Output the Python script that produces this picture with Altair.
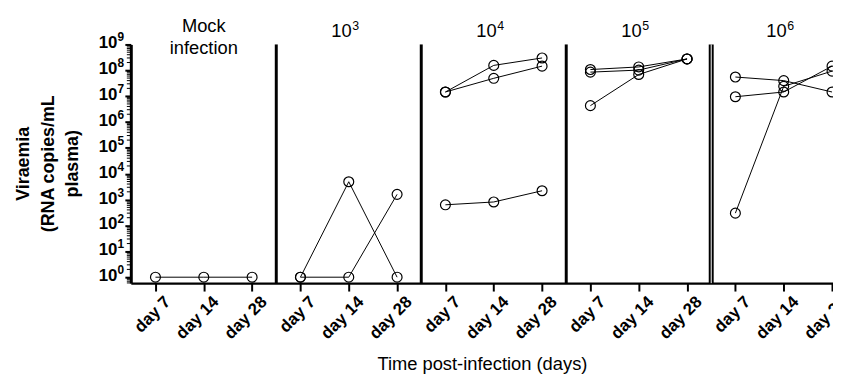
import json
import altair as alt
import pandas as pd

# ---------------- data ----------------
panel_bases = ["Mock\ninfection", "10", "10", "10", "10"]
panel_exps = ["", "3", "4", "5", "6"]
day_labels = ["day 7", "day 14", "day 28"]

# each inner list: one animal, values at day 7 / day 14 / day 28 (RNA copies/mL)
mock = [[1, 1, 1]]
dose_1e3 = [[1, 4900, 1], [1, 1, 1600]]
dose_1e4 = [[1.45e7, 1.55e8, 3.0e8], [1.45e7, 4.9e7, 1.45e8], [630, 810, 2200]]
dose_1e5 = [[1.07e8, 1.35e8, 2.75e8], [8.5e7, 1.02e8, 2.75e8], [4.3e6, 6.9e7, 2.75e8]]
dose_1e6 = [[5.5e7, 4.0e7, 1.45e7], [9.5e6, 1.45e7, 1.45e8], [300, 2.4e7, 9.3e7]]

groups = [mock, dose_1e3, dose_1e4, dose_1e5, dose_1e6]

y_major = [10 ** k for k in range(10)]
y_label_base = ["10"] * 10
y_label_exp = [str(k) for k in range(10)]

# ---------------- tables ----------------
rows = []
for g, series in enumerate(groups):
    for a, vals in enumerate(series):
        for d, v in enumerate(vals):
            rows.append({"pos": g * 3 + d, "value": v, "animal": f"{g}-{a}"})
df = pd.DataFrame(rows)

n_days = len(day_labels)
titles_df = pd.DataFrame({"pos": [g * n_days + 1 for g in range(len(groups))],
                          "base": panel_bases, "exp": panel_exps})
mock_title = titles_df.iloc[:1]
dose_titles = titles_df.iloc[1:]

ylab_df = pd.DataFrame({"v": y_major, "base": y_label_base, "exp": y_label_exp})

bounds = [g * n_days - 0.5 for g in range(1, len(groups))]
sep_df = pd.DataFrame({"pos": bounds[:-1]})
sep_last = pd.DataFrame({"pos": bounds[-1:]})

minor_df = pd.DataFrame({"v": [m * 10 ** k for k in range(-1, 9) for m in range(2, 10)
                               if 0.59 <= m * 10 ** k <= 1e9]})

# ---------------- layout ----------------
W, H = 709, 241
FONT = "Liberation Sans"

x_scale = alt.Scale(domain=[-0.51, 14.02], nice=False, zero=False)
y_scale = alt.Scale(type="log", domain=[0.59, 1e9], nice=False)

x_axis = alt.Axis(
    values=list(range(len(groups) * n_days)),
    labelExpr=f"{json.dumps(day_labels)}[datum.value % {n_days}]",
    title="Time post-infection (days)",
    labelAngle=-45, labelAlign="right", labelBaseline="middle",
    labelFont=FONT, labelFontSize=17, labelFontWeight="bold", labelColor="black",
    labelPadding=8, labelOffset=12, labelOverlap=False, labelFlush=False,
    tickSize=8, tickWidth=2, tickColor="black",
    domainWidth=2.5, domainColor="black", grid=False,
    titleFont=FONT, titleFontSize=18.5, titleFontWeight="normal", titleColor="black",
    titleY=87, titleBaseline="alphabetic",
)

y_axis = alt.Axis(
    values=y_major,
    labels=False,
    title=["Viraemia", "(RNA copies/mL", "plasma)"],
    titleFont=FONT, titleFontSize=18, titleFontWeight="bold", titleColor="black",
    titleAngle=-90, titleX=-108, titleY=120, titleLineHeight=24.5,
    titleBaseline="middle", titleAlign="center",
    tickSize=6, tickWidth=2, tickColor="black",
    domainWidth=3, domainColor="black", grid=False,
)

X = alt.X("pos:Q", scale=x_scale, axis=x_axis)

def Yf(field):
    return alt.Y(f"{field}:Q", scale=y_scale, axis=y_axis)

lines = alt.Chart(df).mark_line(color="black", strokeWidth=1, clip=True).encode(
    x=X, y=Yf("value"), detail="animal:N",
)

points = alt.Chart(df).mark_point(shape="circle", filled=False, color="black", size=100,
                                  strokeWidth=1.2, opacity=1, clip=True).encode(
    x=X, y=Yf("value"),
)

seps = alt.Chart(sep_df).mark_rule(color="black", strokeWidth=3).encode(
    x=X, y=alt.value(0), y2=alt.value(H))
sep2 = alt.Chart(sep_last).mark_rule(color="black", strokeWidth=5).encode(
    x=X, y=alt.value(0), y2=alt.value(H))
sep2w = alt.Chart(sep_last).mark_rule(color="white", strokeWidth=1).encode(
    x=X, y=alt.value(0), y2=alt.value(H))

t_mock = alt.Chart(mock_title).mark_text(font=FONT, fontSize=18.5, color="black",
                                         baseline="alphabetic", lineBreak="\n",
                                         lineHeight=23).encode(
    x=X, y=alt.value(-13), text="base:N")
t_base = alt.Chart(dose_titles).mark_text(font=FONT, fontSize=18.5, color="black",
                                          baseline="alphabetic", align="right", dx=3).encode(
    x=X, y=alt.value(-8), text="base:N")
t_exp = alt.Chart(dose_titles).mark_text(font=FONT, fontSize=12.5, color="black",
                                         baseline="alphabetic", align="left", dx=3.5).encode(
    x=X, y=alt.value(-15), text="exp:N")

yl_base = alt.Chart(ylab_df).mark_text(font=FONT, fontSize=17, fontWeight="bold", color="black",
                                       baseline="alphabetic", align="right", dy=4).encode(
    x=alt.value(-13.5), y=Yf("v"), text="base:N")
yl_exp = alt.Chart(ylab_df).mark_text(font=FONT, fontSize=12, fontWeight="bold", color="black",
                                      baseline="alphabetic", align="left", dy=-3).encode(
    x=alt.value(-13.5), y=Yf("v"), text="exp:N")

minor = alt.Chart(minor_df).mark_rule(color="black", strokeWidth=1).encode(
    y=Yf("v"), x=alt.value(-4), x2=alt.value(0))

chart = alt.layer(lines, seps, sep2, sep2w, points, t_mock, t_base, t_exp,
                  yl_base, yl_exp, minor).properties(
    width=W, height=H,
    autosize=alt.AutoSizeParams(type="none"),
    padding={"left": 124, "top": 35, "right": 0, "bottom": 94},
).configure_view(stroke=None)

chart.save("out.html", embed_options={"renderer": "svg", "actions": False})
